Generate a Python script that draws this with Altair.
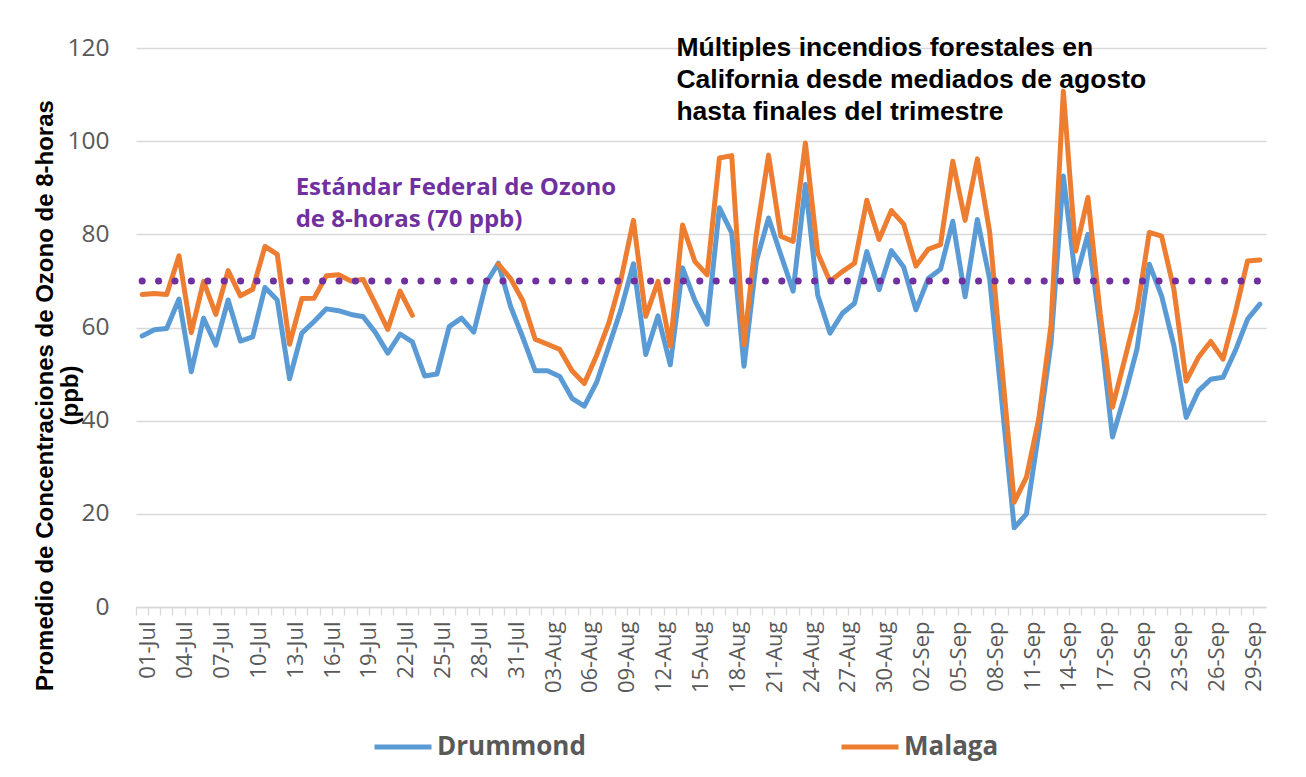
import altair as alt
import pandas as pd

# Category labels: one per day, 01-Jul .. 30-Sep
dates = [d.strftime("%d-%b") for d in pd.date_range("2020-07-01", "2020-09-30")]

drummond = [
    58.2, 59.5, 59.8, 66.1, 50.5, 62.0, 56.2, 65.9, 57.1, 58.0,
    68.6, 65.9, 49.0, 58.8, 61.3, 64.0, 63.6, 62.8, 62.3, 58.9,
    54.5, 58.6, 56.9, 49.6, 50.0, 60.2, 62.0, 59.0, 69.5, 73.8,
    64.5, 57.8, 50.7, 50.7, 49.5, 44.8, 43.1, 48.2, 56.0, 64.0,
    73.7, 54.2, 62.5, 52.0, 72.8, 65.8, 60.7, 85.7, 80.3, 51.7,
    74.2, 83.5, 75.6, 67.8, 90.7, 67.0, 58.8, 63.0, 65.2, 76.3,
    68.1, 76.5, 73.0, 63.8, 70.5, 72.5, 82.8, 66.6, 83.2, 70.4,
    44.0, 17.0, 20.0, 37.5, 56.8, 92.5, 70.4, 80.0, 60.0, 36.5,
    45.4, 55.4, 73.6, 66.8, 56.1, 40.7, 46.4, 48.9, 49.3, 55.0,
    61.8, 65.0,
]

malaga = [
    67.1, 67.3, 67.1, 75.4, 58.9, 69.9, 62.8, 72.2, 66.8, 68.2,
    77.4, 75.7, 56.4, 66.2, 66.3, 71.1, 71.3, 70.0, 70.3, 65.0,
    59.6, 67.8, 62.6, None, None, None, None, None, None, 73.6,
    70.5, 65.7, 57.5, 56.4, 55.3, 50.7, 48.0, 54.0, 61.0, 70.5,
    83.0, 62.4, 69.9, 56.0, 82.0, 74.2, 71.3, 96.4, 96.9, 56.3,
    79.9, 97.0, 79.6, 78.5, 99.6, 76.0, 69.9, 72.0, 73.8, 87.3,
    78.9, 85.1, 82.2, 73.2, 76.8, 77.8, 95.7, 83.0, 96.2, 80.5,
    51.5, 22.5, 27.9, 40.4, 60.6, 110.7, 76.4, 87.9, 63.0, 42.9,
    53.2, 63.6, 80.4, 79.6, 68.2, 48.5, 53.6, 57.0, 53.2, 63.2,
    74.3, 74.5,
]

sites = ["Drummond", "Malaga"]
site_colors = ["#5B9BD5", "#ED7D31"]
standard_ppb = 70
y_ticks = [0, 20, 40, 60, 80, 100, 120]

standard_label = ["Estándar Federal de Ozono", "de 8-horas (70 ppb)"]
fire_label = ["Múltiples incendios forestales en",
              "California desde mediados de agosto",
              "hasta finales del trimestre"]
y_title = ["Promedio de Concentraciones de Ozono de 8-horas", "(ppb)"]

df = pd.DataFrame({
    "date": dates * 2,
    "value": drummond + malaga,
    "site": [sites[0]] * len(dates) + [sites[1]] * len(dates),
})
std_df = pd.DataFrame({"date": dates, "value": [standard_ppb] * len(dates)})

label_list = "[" + ",".join("'" + d + "'" for d in dates) + "]"
xscale = alt.Scale(type="band", domain=dates, paddingInner=0, paddingOuter=0)
xaxis = alt.Axis(
    title=None, bandPosition=0, labelOffset=6.14, labelAngle=270,
    labelFont="Open Sans", labelFontSize=22, labelColor="#595959",
    labelPadding=6, labelOverlap=False, labelBound=False,
    labelExpr="indexof(" + label_list + ", datum.value) % 3 === 0 ? datum.value : ''",
    tickSize=8, tickColor="#D9D9D9", tickWidth=1.3,
    domainColor="#D9D9D9", domainWidth=1.3, grid=False,
)
yscale = alt.Scale(domain=[0, 120], nice=False, zero=True)
yaxis = alt.Axis(
    values=y_ticks, title=y_title,
    titleFont="Liberation Sans", titleFontSize=24, titleFontWeight="bold",
    titleColor="black", titleX=-91, titleY=347, titleAlign="center",
    titleBaseline="middle", titleAngle=270, titleLineHeight=25,
    labelFont="Open Sans", labelFontSize=24.5, labelColor="#595959",
    labelPadding=27, domain=False, ticks=False,
    gridColor="#D9D9D9", gridWidth=1.3,
)

def X(band):
    return alt.X("date:N", scale=xscale, axis=xaxis, bandPosition=band)

Y = alt.Y("value:Q", scale=yscale, axis=yaxis)

lines = alt.Chart(df).mark_line(
    strokeWidth=5, strokeJoin="round", strokeCap="round",
    invalid="break-paths-show-domains",
).encode(
    x=X(0.5), y=Y,
    stroke=alt.Stroke(
        "site:N",
        scale=alt.Scale(domain=sites, range=site_colors),
        legend=alt.Legend(
            title=None, orient="none", legendX=236, legendY=668,
            direction="horizontal", symbolType="stroke", symbolSize=3249,
            symbolStrokeWidth=5, labelFont="Open Sans", labelFontSize=26,
            labelFontWeight="bold", labelColor="#595959", labelOffset=3,
            labelLimit=300, columnPadding=245,
        ),
    ),
)

std_line = alt.Chart(std_df).mark_line(
    color="#7030A0", strokeWidth=7, strokeDash=[0.1, 16.3], strokeCap="round",
).encode(x=X(0.5), y=Y)

std_text = alt.Chart(pd.DataFrame({"date": ["14-Jul"], "value": [89.9]})).mark_text(
    text=standard_label, align="left", baseline="middle", lineHeight=32,
    font="Open Sans", fontSize=24, fontWeight="bold", color="#7030A0",
).encode(x=X(0), y=Y)

fire_text = alt.Chart(pd.DataFrame({"date": ["14-Aug"], "value": [120.0]})).mark_text(
    text=fire_label, align="left", baseline="middle", lineHeight=32,
    font="Liberation Sans", fontSize=26.5, fontWeight="bold", color="black",
).encode(x=X(0), y=Y)

chart = alt.layer(lines, std_line, std_text, fire_text).properties(
    width=1130, height=559,
    padding={"left": 128, "top": 40, "right": 30, "bottom": 160},
    autosize=alt.AutoSizeParams(type="none"),
).configure_view(stroke=None)

chart.save("out.html", embed_options={"renderer": "svg", "actions": False})
